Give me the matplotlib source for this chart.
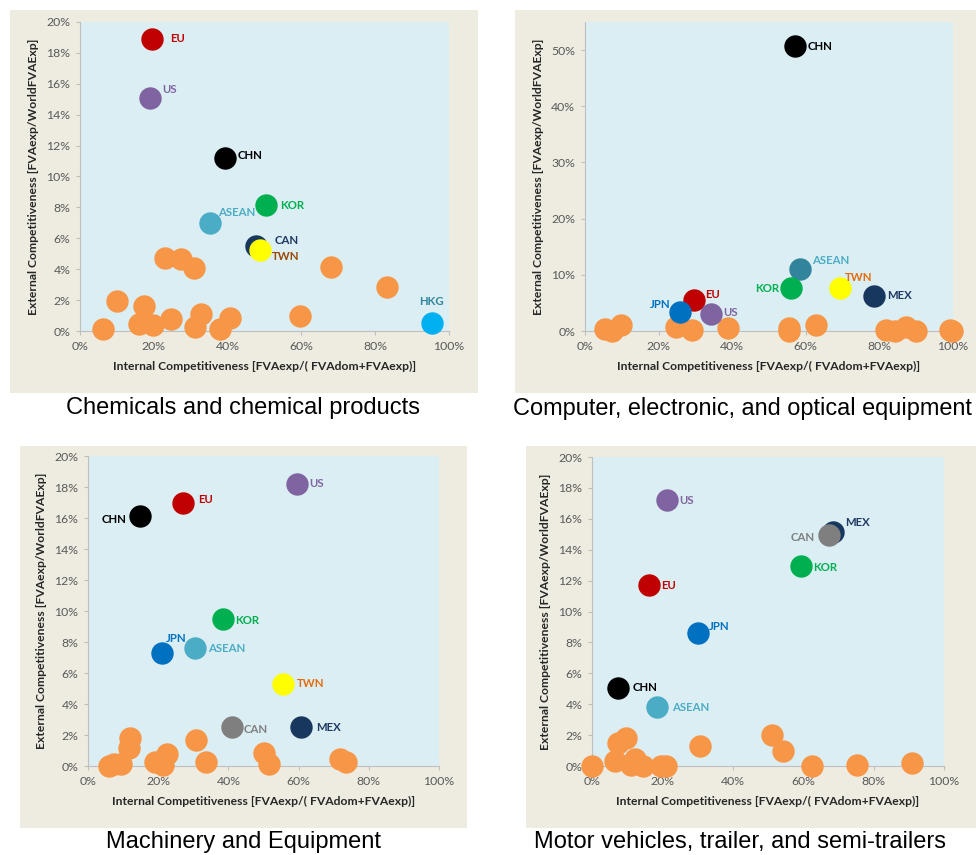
# competitiveness scatter, 4 sectors (excel-style look)
import matplotlib.pyplot as plt
from matplotlib.patches import Rectangle
from matplotlib.ticker import PercentFormatter

# ---- data (fractions) ----
chem_names = ["EU", "US", "CHN", "KOR", "ASEAN", "CAN", "TWN", "HKG"]
chem_x = [0.195, 0.190, 0.394, 0.504, 0.351, 0.478, 0.487, 0.955]
chem_y = [0.189, 0.151, 0.112, 0.0815, 0.0696, 0.055, 0.0524, 0.0054]
chem_other_x = [0.231, 0.273, 0.310, 0.680, 0.833, 0.101, 0.173, 0.063, 0.159,
                0.197, 0.247, 0.329, 0.313, 0.379, 0.406, 0.596]
chem_other_y = [0.047, 0.0466, 0.0405, 0.0416, 0.0287, 0.0194, 0.0164, 0.0013, 0.0043,
                0.0039, 0.0075, 0.0108, 0.0024, 0.0013, 0.0082, 0.0099]

comp_names = ["CHN", "ASEAN", "KOR", "TWN", "MEX", "EU", "JPN", "US"]
comp_x = [0.570, 0.584, 0.561, 0.693, 0.784, 0.295, 0.259, 0.343]
comp_y = [0.507, 0.1105, 0.076, 0.076, 0.0626, 0.055, 0.034, 0.030]
comp_other_x = [0.055, 0.073, 0.097, 0.247, 0.290, 0.389, 0.553, 0.555, 0.629,
                0.817, 0.843, 0.871, 0.899, 0.992, 0.998]
comp_other_y = [0.0035, 0.0006, 0.0106, 0.0065, 0.0018, 0.0047, 0.0047, 0.0006, 0.0106,
                0.0018, 0.0006, 0.0077, 0.0006, 0.0018, 0.0006]

mach_names = ["US", "EU", "CHN", "KOR", "JPN", "ASEAN", "TWN", "CAN", "MEX"]
mach_x = [0.596, 0.271, 0.148, 0.384, 0.211, 0.306, 0.556, 0.411, 0.607]
mach_y = [0.182, 0.170, 0.161, 0.0946, 0.073, 0.076, 0.053, 0.025, 0.025]
mach_other_x = [0.119, 0.118, 0.307, 0.059, 0.073, 0.094, 0.191, 0.225, 0.213,
                0.337, 0.500, 0.517, 0.718, 0.736]
mach_other_y = [0.0178, 0.0118, 0.0168, 0.0, 0.0013, 0.0013, 0.0028, 0.0075, 0.0006,
                0.0024, 0.0086, 0.0011, 0.0045, 0.0028]

motor_names = ["US", "MEX", "CAN", "KOR", "EU", "JPN", "CHN", "ASEAN"]
motor_x = [0.213, 0.686, 0.672, 0.593, 0.162, 0.300, 0.075, 0.186]
motor_y = [0.172, 0.1515, 0.1498, 0.1293, 0.117, 0.0858, 0.0502, 0.0379]
motor_other_x = [0.0, 0.064, 0.074, 0.098, 0.112, 0.121, 0.145, 0.195, 0.211,
                 0.308, 0.511, 0.544, 0.625, 0.752, 0.909]
motor_other_y = [0.0, 0.0034, 0.0151, 0.0179, 0.0006, 0.0043, 0.0, 0.0, 0.0002,
                 0.0129, 0.020, 0.0097, 0.0, 0.0006, 0.0017]

titles = ["Chemicals and chemical products",
          "Computer, electronic, and optical equipment",
          "Machinery and Equipment",
          "Motor vehicles, trailer, and semi-trailers"]

# ---- styles ----
BEIGE = "#EEECE1"
PLOT_BG = "#DBEEF3"
ORANGE = "#F79646"
dot_col = {"EU": "#C00000", "US": "#8064A2", "CHN": "#000000", "KOR": "#00B050",
           "ASEAN": "#4BACC6", "CAN": "#7F7F7F", "TWN": "#FFFF00", "HKG": "#00B0F0",
           "JPN": "#0070C0", "MEX": "#17375E"}
txt_col = dict(dot_col)
txt_col["TWN"] = "#E46C0A"
txt_col["HKG"] = "#31859C"
txt_col["MEX"] = "#1F3864"
txt_col["CAN"] = "#7F7F7F"

# label offsets in points (dx, dy, ha)
chem_off = {"EU": (13, 0, "left"), "US": (9, 6, "left"), "CHN": (9, 2, "left"),
            "KOR": (10, 0, "left"), "ASEAN": (6, 8, "left"), "CAN": (13, 4, "left"),
            "TWN": (9, -5, "left"), "HKG": (-1, 15, "center")}
comp_off = {"CHN": (9.5, 0, "left"), "ASEAN": (9, 6, "left"), "KOR": (-9, 0, "right"),
            "TWN": (3.5, 8, "left"), "MEX": (9.5, 0, "left"), "EU": (8.5, 4, "left"),
            "JPN": (-7, 5, "right"), "US": (8.5, 1, "left")}
mach_off = {"US": (9, 0, "left"), "EU": (11, 2, "left"), "CHN": (-10, -2, "right"),
            "KOR": (9, -1, "left"), "JPN": (3, 10, "left"), "ASEAN": (9, 0, "left"),
            "TWN": (10, 0, "left"), "CAN": (8, -1.5, "left"), "MEX": (10.5, 0, "left")}
motor_off = {"US": (8.5, 0, "left"), "MEX": (8.5, 7, "left"), "CAN": (-10, -2, "right"),
             "KOR": (9, -1, "left"), "EU": (9, 0, "left"), "JPN": (8, 5, "left"),
             "CHN": (10.5, 1, "left"), "ASEAN": (10.5, 0, "left")}

W, H = 976, 855
fig = plt.figure(figsize=(W / 100, H / 100), dpi=100)
fig.patch.set_facecolor("white")

# beige panel backgrounds (pixel boxes: x0, y0, x1, y1 from top-left)
boxes = [(10, 10, 478, 393), (515, 10, 976, 393), (20, 446, 467, 828), (526, 446, 976, 828)]
for x0, y0, x1, y1 in boxes:
    fig.patches.append(Rectangle((x0 / W, 1 - y1 / H), (x1 - x0) / W, (y1 - y0) / H,
                                 transform=fig.transFigure, facecolor=BEIGE,
                                 edgecolor="none", zorder=-5))

# plot areas in pixels (left, top, right, bottom)
areas = [(80, 22, 449, 331), (585, 22, 953, 331), (88, 456, 439, 766), (592, 457, 944, 766)]
panels = [
    (chem_names, chem_x, chem_y, chem_other_x, chem_other_y, chem_off, 0.20, 0.02),
    (comp_names, comp_x, comp_y, comp_other_x, comp_other_y, comp_off, 0.55, 0.10),
    (mach_names, mach_x, mach_y, mach_other_x, mach_other_y, mach_off, 0.20, 0.02),
    (motor_names, motor_x, motor_y, motor_other_x, motor_other_y, motor_off, 0.20, 0.02),
]

tick_font = "Lato"
for i, (names, xs, ys, ox, oy, offs, ymax, ystep) in enumerate(panels):
    l, t, r, b = areas[i]
    ax = fig.add_axes([l / W, 1 - b / H, (r - l) / W, (b - t) / H])
    ax.set_facecolor(PLOT_BG)
    ax.set_xlim(0, 1)
    ax.set_ylim(0, ymax)
    ax.set_xticks([0, 0.2, 0.4, 0.6, 0.8, 1.0])
    n = int(round((0.5 if ymax > 0.5 else ymax) / ystep))
    ax.set_yticks([k * ystep for k in range(n + 1)])
    ax.xaxis.set_major_formatter(PercentFormatter(1.0, decimals=0))
    ax.yaxis.set_major_formatter(PercentFormatter(1.0, decimals=0))
    for s in ["top", "right"]:
        ax.spines[s].set_visible(False)
    for s in ["left", "bottom"]:
        ax.spines[s].set_color("#BFBFBF")
        ax.spines[s].set_linewidth(0.8)
    ax.tick_params(colors="#BFBFBF", labelcolor="#595959", labelsize=8.8, length=3,
                   width=0.8, pad=4)
    for lab in ax.get_xticklabels() + ax.get_yticklabels():
        lab.set_fontfamily(tick_font)

    ax.set_xlabel("Internal Competitiveness [FVAexp/( FVAdom+FVAexp)]", fontsize=8.7,
                  fontweight="bold", color="#262626", family=tick_font, labelpad=7)
    ax.set_ylabel("External Competitiveness [FVAexp/WorldFVAExp]", fontsize=8.7,
                  fontweight="bold", color="#262626", family=tick_font, labelpad=5)

    ax.scatter(ox, oy, s=260, color=ORANGE, linewidths=0, zorder=3, clip_on=False)
    for nm, x, y in zip(names, xs, ys):
        c = dot_col[nm]
        if i == 0 and nm == "CAN":
            c = "#17375E"
        if i == 1 and nm == "ASEAN":
            c = "#31849B"
        ax.scatter([x], [y], s=260, color=c, linewidths=0, zorder=4, clip_on=False)
        tc = txt_col[nm]
        if i == 0 and nm == "CAN":
            tc = "#1F3864"
        if i == 0 and nm == "TWN":
            tc = "#984807"
        dx, dy, ha = offs[nm]
        ax.annotate(nm, (x, y), xytext=(dx, dy), textcoords="offset points",
                    ha=ha, va="center", fontsize=8.2, fontweight="bold", color=tc,
                    family=tick_font, zorder=5)

# panel captions
cap_font = ["Liberation Sans", "DejaVu Sans"]
fig.text(243 / W, 1 - 408 / H, titles[0], ha="center", va="center", fontsize=17,
         family=cap_font)
fig.text(513 / W, 1 - 408 / H, titles[1], ha="left", va="center", fontsize=16.9,
         family=cap_font)
fig.text(243 / W, 1 - 842 / H, titles[2], ha="center", va="center", fontsize=17,
         family=cap_font)
fig.text(740 / W, 1 - 842 / H, titles[3], ha="center", va="center", fontsize=17,
         family=cap_font)

fig.savefig("out.png", dpi=100)
